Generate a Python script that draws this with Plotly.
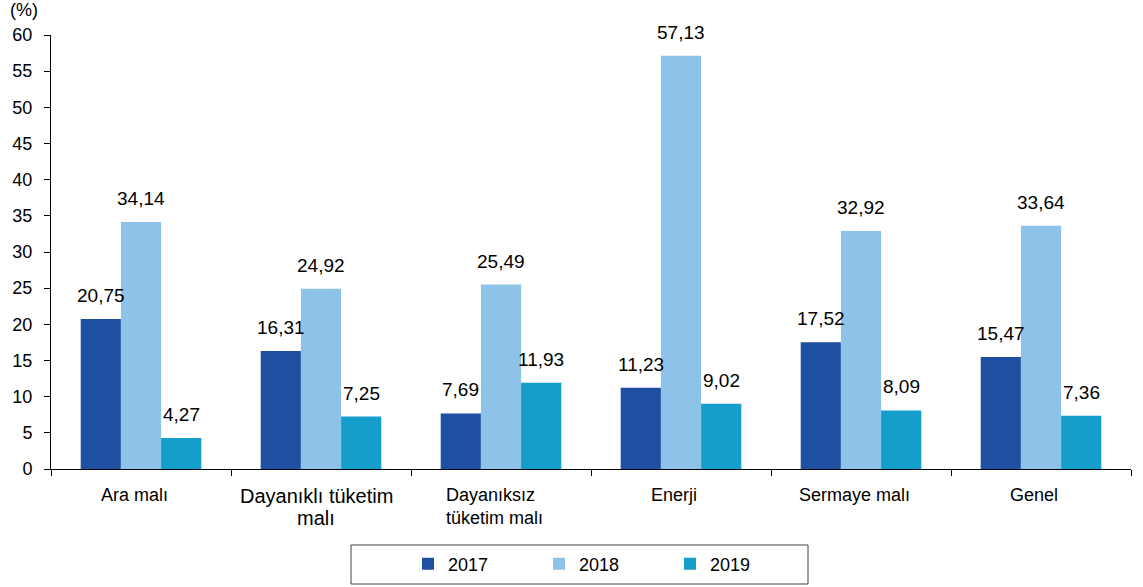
import plotly.graph_objects as go

categories = ["Ara malı", "Dayanıklı tüketim malı", "Dayanıksız tüketim malı", "Enerji", "Sermaye malı", "Genel"]
# category label lines as shown under the axis
label_lines = [["Ara malı"], ["Dayanıklı tüketim", "malı"], ["Dayanıksız<br>tüketim malı"],
               ["Enerji"], ["Sermaye malı"], ["Genel"]]
years = ["2017", "2018", "2019"]
v2017 = [20.75, 16.31, 7.69, 11.23, 17.52, 15.47]
v2018 = [34.14, 24.92, 25.49, 57.13, 32.92, 33.64]
v2019 = [4.27, 7.25, 11.93, 9.02, 8.09, 7.36]
values = [v2017, v2018, v2019]
colors = ["#1E4FA0", "#8EC3E9", "#159DCB"]

W, H = 1143, 587
ML, MR, MT, MB = 51, 12, 35, 118
PW, PH = W - ML - MR, H - MT - MB
BARGAP = 0.33
bar_px = PW / len(categories) * (1 - BARGAP) / len(years)

fig = go.Figure()
for name, vals, color in zip(years, values, colors):
    fig.add_trace(go.Bar(x=categories, y=vals, name=name, marker_color=color,
                         marker_line_width=0))

annotations = []
# data labels, positioned over each bar of the group
for j, vals in enumerate(values):
    for c, v in zip(categories, vals):
        annotations.append(dict(
            x=c, y=v, xref="x", yref="y", text=f"{v:.2f}".replace(".", ","),
            showarrow=False, yanchor="bottom", xanchor="center",
            xshift=(j - 1) * bar_px, yshift=11, font=dict(size=19, color="black")))

# category labels
for c, lines in zip(categories, label_lines):
    if len(lines) == 2:  # tightly spaced larger label
        for k, ln in enumerate(lines):
            annotations.append(dict(
                x=c, y=0, xref="x", yref="paper", text=ln, showarrow=False, borderpad=0,
                yanchor="top", xanchor="center", xshift=-5, yshift=-15 - 22 * k,
                font=dict(size=20, color="black")))
    else:
        annotations.append(dict(
            x=c, y=0, xref="x", yref="paper", text=lines[0], showarrow=False,
            yanchor="top", xanchor="center", align="left", xshift=-7, yshift=-14,
            font=dict(size=18, color="black")))

annotations.append(dict(text="(%)", xref="paper", yref="paper", x=(8 - ML) / PW,
                        y=(H - MB - 10) / PH, xanchor="left", yanchor="middle",
                        showarrow=False, font=dict(size=18, color="black")))

fig.update_layout(
    width=W, height=H,
    margin=dict(l=ML, r=MR, t=MT, b=MB, autoexpand=False),
    paper_bgcolor="white", plot_bgcolor="white",
    font=dict(family="Liberation Sans, Arial, sans-serif", color="black"),
    barmode="group", bargap=BARGAP, bargroupgap=0,
    showlegend=True,
    legend=dict(orientation="h", xref="paper", x=(408 - ML) / PW, xanchor="left",
                yref="container", y=1 - 564 / H, yanchor="middle",
                font=dict(size=18), entrywidth=86, entrywidthmode="pixels",
                traceorder="normal", bgcolor="rgba(0,0,0,0)"),
    xaxis=dict(showticklabels=False, automargin=False,
               showline=True, linecolor="black", linewidth=1,
               ticks="outside", tickson="boundaries", ticklen=6, tickcolor="black"),
    yaxis=dict(range=[0, 60], dtick=5, tickfont=dict(size=18), automargin=False,
               showline=True, linecolor="black", linewidth=1, ticklabelstandoff=8,
               ticks="outside", ticklen=6, tickcolor="black", showgrid=False, zeroline=False),
    shapes=[dict(type="rect", xref="paper", yref="paper",
                 x0=(351 - ML) / PW, x1=(808 - ML) / PW,
                 y0=-(584 - (H - MB)) / PH, y1=-(545 - (H - MB)) / PH,
                 line=dict(color="#404040", width=1), fillcolor="rgba(0,0,0,0)")],
    annotations=annotations,
)

fig.write_html("out.html", config={"displayModeBar": False},
               post_script="document.body.style.margin='0';document.body.style.overflow='hidden';")
